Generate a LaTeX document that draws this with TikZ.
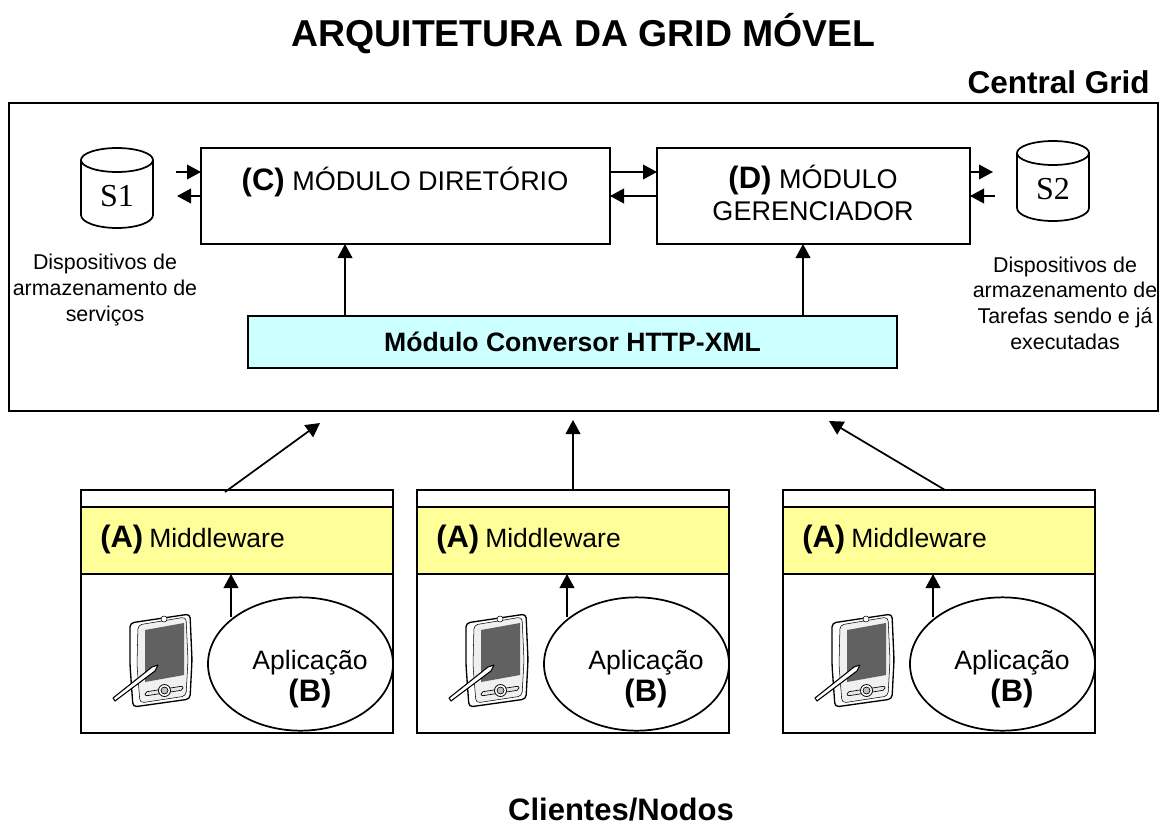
\documentclass[tikz,border=0pt]{standalone}
\usepackage{fontspec}
\setmainfont{Liberation Sans}
\newfontfamily\serifface{Liberation Serif}
\usetikzlibrary{arrows.meta,shapes.geometric}
\newcommand{\pxfont}[1]{\fontsize{\the\dimexpr#1pt*3/4\relax}{\the\dimexpr#1pt*9/10\relax}\selectfont}
\definecolor{midyellow}{RGB}{255,255,153}
\definecolor{convcyan}{RGB}{204,255,255}
\tikzset{
  x=0.75pt,y=-0.75pt,
  line/.style={draw=black,line width=1.3pt},
  conn/.style={line,-{Triangle[length=10.5pt,width=11pt]}},
  boxnode/.style={draw=black,line width=1.3pt,fill=white,inner sep=0pt,outer sep=0pt,align=center},
  capt/.style={inner sep=0pt,align=center},
  mid/.style={boxnode,fill=midyellow,anchor=north west,minimum width=234pt,minimum height=50.25pt},
}
\newcommand{\bigb}[1]{\textbf{\pxfont{31}#1}}
\newcommand{\drum}[4]{% name, cx, top y, label
  \draw[line,fill=white] (#2-36,#3+12) -- (#2-36,#3+67) arc[start angle=180,end angle=0,x radius=36,y radius=13] -- (#2+36,#3+12) arc[start angle=0,end angle=-360,x radius=36,y radius=12];
  \node[inner sep=0pt,font=\serifface\fontsize{24}{26}\selectfont] (#1) at (#2,#3+48) {#4};
}
\newcommand{\pda}[1]{%
  \begin{scope}[xshift=#1*0.75pt]
    \draw[line width=1pt,fill=white,rounded corners=3pt] (130,623) -- (190,614) -- (192,660) -- (190,699) -- (133,707) -- (130,665) -- cycle;
    \draw[line width=.4pt,fill=black!6,rounded corners=3pt] (138,625) -- (186,617) -- (188,660) -- (186,696) -- (140,703) -- (137,665) -- cycle;
    \fill[black!62] (145,630) -- (184,623) -- (184,675) -- (145,682) -- cycle;
    \draw[line width=.4pt,fill=white] (164,619) circle[radius=3];
    \draw[line width=.5pt,fill=black!10,rounded corners=1.5pt] (145,692) -- (183,686) -- (183,690) -- (145,696) -- cycle;
    \draw[line width=.6pt,fill=white] (164.5,690.5) circle[radius=6];
    \draw[line width=.5pt,fill=black!25] (164.5,690.5) circle[radius=3.5];
    \draw[line width=.8pt,fill=white,line join=round] (158,665) -- (152,667) -- (113,698) -- (115,701) -- (155,671) -- cycle;
  \end{scope}
}
\begin{document}
\begin{tikzpicture}
\useasboundingbox (0,0) rectangle (1160,825);
\fill[white] (0,0) rectangle (1160,825);

\node[capt,font=\bfseries\pxfont{37.4}] (title) at (583.5,34) {ARQUITETURA DA GRID MÓVEL};
\node[capt,font=\bfseries\pxfont{31.5},anchor=base east] (central) at (1150,93) {Central Grid};
\node[capt,font=\bfseries\pxfont{31},anchor=base] (clients) at (621,820) {Clientes/Nodos};

\node[boxnode,anchor=north west,minimum width=861.75pt,minimum height=231pt] (grid) at (9,103) {};

\node[boxnode,anchor=north west,minimum width=306.75pt,minimum height=72pt] (C) at (201,148) {};
\node[capt,font=\pxfont{27}] (Ct) at (405,182) {\bigb{(C)} MÓDULO DIRETÓRIO};
\node[boxnode,anchor=north west,minimum width=234.75pt,minimum height=72pt] (D) at (657,148) {};
\node[capt,font=\pxfont{27}] (Dt) at (813,193) {\bigb{(D)} MÓDULO\\GERENCIADOR};
\node[boxnode,fill=convcyan,anchor=north west,minimum width=486.75pt,minimum height=39pt,font=\bfseries\pxfont{26.6}] (conv) at (248,316) {Módulo Conversor HTTP-XML};

\drum{S1}{117}{148}{S1}
\drum{S2}{1053}{141}{S2}

\node[capt,font=\pxfont{21.4}] (d1) at (105,290) {Dispositivos de\\armazenamento de\\serviços};
\node[capt,font=\pxfont{21.4}] (d2) at (1065,303) {Dispositivos de\\armazenamento de\\Tarefas sendo e já\\executadas};

\coordinate (s1in) at (176,172);
\coordinate (s1out) at (177,196);
\coordinate (s2in) at (993,172);
\coordinate (s2out) at (995,196);

\draw[conn] (s1in) -- (s1in -| C.west);
\draw[conn] (s1out -| C.west) -- (s1out);
\draw[conn] (C.east |- s1in) -- (D.west |- s1in);
\draw[conn] (D.west |- s1out) -- (C.east |- s1out);
\draw[conn] (D.east |- s2in) -- (s2in);
\draw[conn] (s2out) -- (D.east |- s2out);
\coordinate (cup) at (345,0);
\coordinate (dup) at (803,0);
\draw[conn] (cup |- conv.north) -- (cup |- C.south);
\draw[conn] (dup |- conv.north) -- (dup |- D.south);

% clients
\foreach \n/\dx in {1/0,2/336,3/702}{
  \node[boxnode,anchor=north west,minimum width=234pt,minimum height=182.25pt] (box\n) at (81+\dx,490) {};
  \node[mid] (mw\n) at (81+\dx,507) {};
  \node[capt,anchor=west,font=\bfseries\pxfont{31}] (mwA\n) at (100+\dx,539) {(A)};
  \node[capt,anchor=west,font=\pxfont{26.5}] (mwt\n) at (149+\dx,538) {Middleware};
  \node[boxnode,ellipse,minimum width=138.75pt,minimum height=100pt] (app\n) at (300.5+\dx,664) {};
  \node[capt,font=\pxfont{26.6}] (appt\n) at (310+\dx,679.5) {Aplicação\\\bigb{(B)}};
  \pda{\dx}
  \coordinate (up\n) at (231+\dx,617);
  \draw[conn] (up\n) -- (up\n |- mw\n.south);
}
\coordinate (a1) at (225,492);
\coordinate (b1) at (320,423);
\coordinate (a2) at (573,490);
\coordinate (b2) at (573,420);
\coordinate (a3) at (945,490);
\coordinate (b3) at (829,421);
\draw[conn] (a1) -- (b1);
\draw[conn] (a2) -- (b2);
\draw[conn] (a3) -- (b3);
\end{tikzpicture}
\end{document}
